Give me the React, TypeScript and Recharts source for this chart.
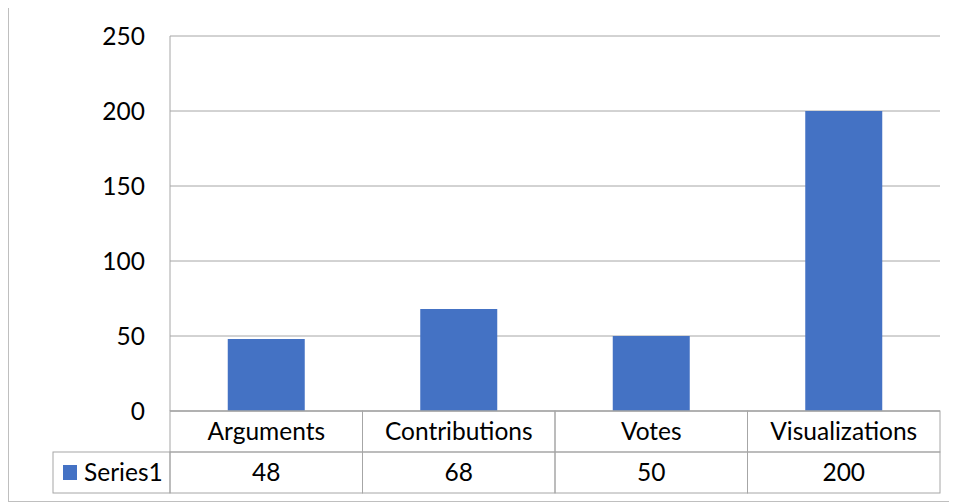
import { BarChart, Bar, XAxis, YAxis, CartesianGrid } from 'recharts';

const categories = ['Arguments', 'Contributions', 'Votes', 'Visualizations'];
const series1 = [48, 68, 50, 200];
const seriesName = 'Series1';
const yTicks = [0, 50, 100, 150, 200, 250];

const data = categories.map((name, i) => ({ name, value: series1[i] }));

const FONT = 'Lato, "Open Sans", sans-serif';
const FS = 24.5;
const LINE = '#a6a6a6';
const BLUE = '#4472c4';
const ROW = 41;

// plot width / category count, used to size the data table cells
const BAND = 770 / categories.length;

function TableTick(props: any) {
  const { x, y, index, payload } = props;
  const left = x - BAND / 2;
  return (
    <g>
      <rect x={left} y={y} width={BAND} height={ROW} fill="none" stroke={LINE} />
      <rect x={left} y={y + ROW} width={BAND} height={ROW} fill="none" stroke={LINE} />
      <text x={x} y={y + 29} textAnchor="middle" fontSize={FS} fontFamily={FONT} fill="#000">
        {payload.value}
      </text>
      <text x={x} y={y + ROW + 29} textAnchor="middle" fontSize={FS} fontFamily={FONT} fill="#000">
        {series1[index]}
      </text>
      {index === 0 && (
        <g>
          <rect x={left - 117} y={y + ROW} width={117} height={ROW} fill="none" stroke={LINE} />
          <rect x={left - 107} y={y + ROW + 13} width={14} height={15} fill={BLUE} />
          <text x={left - 86} y={y + ROW + 29} fontSize={FS} fontFamily={FONT} fill="#000">
            {seriesName}
          </text>
        </g>
      )}
    </g>
  );
}

export default function App() {
  return (
    <div
      style={{
        width: 946,
        height: 495,
        border: '1px solid #bfbfbf',
        marginTop: -3,
        background: '#fff',
      }}
    >
      <BarChart
        width={946}
        height={495}
        data={data}
        margin={{ top: 30, right: 15, left: 0, bottom: 8 }}
        barCategoryGap="30%"
      >
        <CartesianGrid vertical={false} stroke={LINE} />
        <YAxis
          width={161}
          domain={[0, 250]}
          ticks={yTicks}
          interval={0}
          axisLine={{ stroke: LINE }}
          tickLine={false}
          tickMargin={19}
          tick={{ fontSize: FS, fontFamily: FONT, fill: '#000' }}
        />
        <XAxis
          dataKey="name"
          height={82}
          axisLine={{ stroke: LINE }}
          tickLine={false}
          tickSize={0}
          tickMargin={0}
          interval={0}
          tick={<TableTick />}
        />
        <Bar dataKey="value" fill={BLUE} isAnimationActive={false} />
      </BarChart>
    </div>
  );
}
